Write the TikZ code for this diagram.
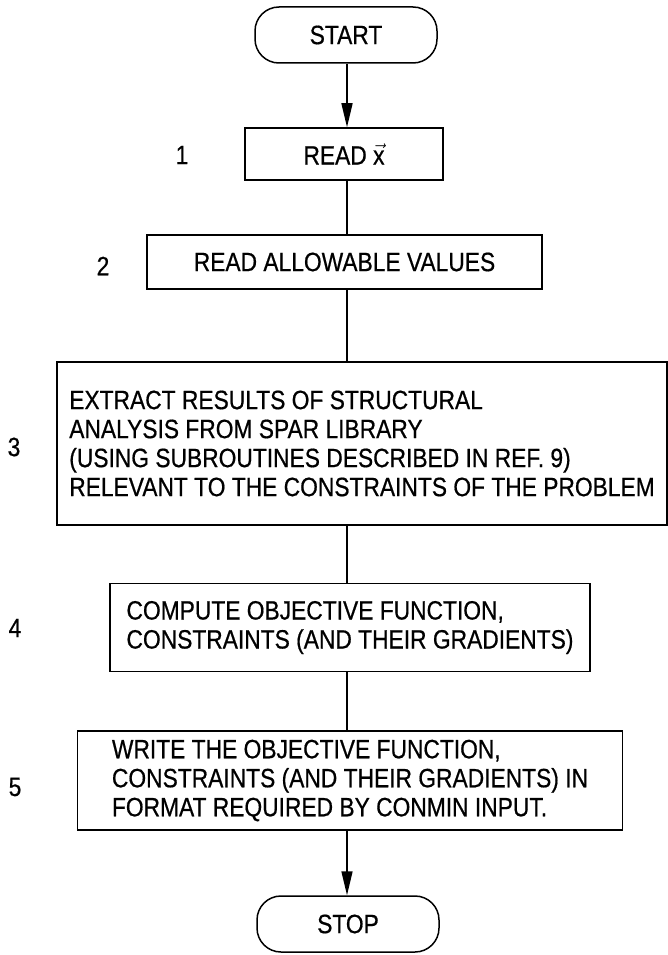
\documentclass[tikz,border=0pt]{standalone}
\usepackage{amsmath}
\usepackage{fontspec}
\setmainfont{Liberation Sans}[FakeStretch=0.86,FakeBold=0.6]
\usetikzlibrary{arrows.meta}

\begin{document}
\begin{tikzpicture}[x=1pt,y=-1pt,
    every node/.style={font=\fontsize{26.5}{29}\selectfont},
    stepbox/.style={draw, line width=1.5pt, align=left, inner sep=0pt},
    term/.style={draw, line width=1.5pt, rounded corners=24pt, minimum width=182pt, minimum height=56pt},
    flow/.style={line width=1.6pt},
    into/.style={flow, -{Triangle[length=24pt,width=11pt]}}]
    \useasboundingbox (0,0) rectangle (668,955);
    \coordinate (spine) at (347,0);

    \node[term] (start) at (346,35) {START};
    \node[stepbox, minimum width=198pt, minimum height=52pt] (readx) at (344,154) {READ \(\vec{\text{x}}\)};
    \node[stepbox, minimum width=395pt, minimum height=54pt] (readval) at (344.5,262) {READ ALLOWABLE VALUES};
    \node[stepbox, minimum width=610pt, minimum height=163pt] (extract) at (362,443.5)
        {EXTRACT RESULTS OF STRUCTURAL\\ANALYSIS FROM SPAR LIBRARY\\(USING SUBROUTINES DESCRIBED IN REF. 9)\\RELEVANT TO THE CONSTRAINTS OF THE PROBLEM};
    \node[stepbox, minimum width=480pt, minimum height=88pt] (compute) at (350,627.5)
        {COMPUTE OBJECTIVE FUNCTION,\\CONSTRAINTS (AND THEIR GRADIENTS)};
    \node[stepbox, minimum width=545pt, minimum height=99pt] (write) at (350,780.5)
        {WRITE THE OBJECTIVE FUNCTION,\\CONSTRAINTS (AND THEIR GRADIENTS) IN\\FORMAT REQUIRED BY CONMIN INPUT.};
    \node[term] (stop) at (348,924) {STOP};

    \node (n1) at (182,155) {1};
    \node (n2) at (103,266) {2};
    \node (n3) at (14,447) {3};
    \node (n4) at (15,628) {4};
    \node (n5) at (15,787) {5};

    \draw[into] (start.south -| spine) -- (readx.north -| spine);
    \draw[flow] (readx.south -| spine) -- (readval.north -| spine);
    \draw[flow] (readval.south -| spine) -- (extract.north -| spine);
    \draw[flow] (extract.south -| spine) -- (compute.north -| spine);
    \draw[flow] (compute.south -| spine) -- (write.north -| spine);
    \draw[into] (write.south -| spine) -- (stop.north -| spine);
\end{tikzpicture}
\end{document}
